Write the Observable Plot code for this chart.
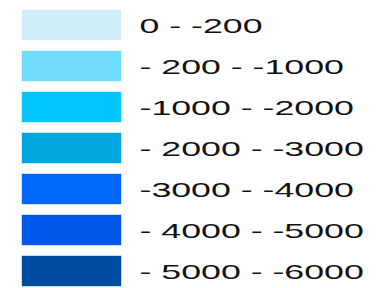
<!DOCTYPE html>
<html>
<head>
<meta charset="utf-8">
<script src="https://cdn.jsdelivr.net/npm/d3@7"></script>
<script src="https://cdn.jsdelivr.net/npm/@observablehq/plot@0.6"></script>
<style>
  html, body { margin: 0; padding: 0; background: #fff; }
  #chart svg { display: block; }
</style>
</head>
<body>
<div id="chart"></div>
<script>
const labels = ["0 - -200", "- 200 - -1000", "-1000 - -2000", "- 2000 - -3000", "-3000 - -4000", "- 4000 - -5000", "- 5000 - -6000"];
const colors = ["#d1eefd", "#70dcfc", "#00c5fe", "#00a7e1", "#0068fe", "#0058e8", "#004ca4"];

const rows = labels.map((label, i) => ({label, color: colors[i], key: "swatch"}));

const chart = Plot.plot({
  width: 387,
  height: 288,
  margin: 0,
  style: {background: "#fff"},
  x: {type: "band", domain: ["swatch"], range: [22, 121], padding: 0, axis: null},
  y: {type: "band", domain: labels, range: [8, 288], paddingInner: 0.265, paddingOuter: 0, axis: null},
  color: {type: "identity"},
  marks: [
    Plot.cell(rows, {x: "key", y: "label", fill: "color", stroke: "color", strokeOpacity: 0.5, strokeWidth: 0.8}),
    Plot.text(rows, {x: "key", y: "label", text: "label", textAnchor: "start", dx: 67.5, dy: 1,
      fontSize: 21, fontFamily: "Liberation Sans, Arial, sans-serif", fill: "#111"})
  ]
});
document.getElementById("chart").appendChild(chart);

// horizontally stretched lettering, as in the reference
const stretch = 1.7;
chart.querySelectorAll("text").forEach(t => {
  const w = t.getComputedTextLength();
  t.setAttribute("textLength", (w * stretch).toFixed(1));
  t.setAttribute("lengthAdjust", "spacingAndGlyphs");
});
</script>
</body>
</html>
